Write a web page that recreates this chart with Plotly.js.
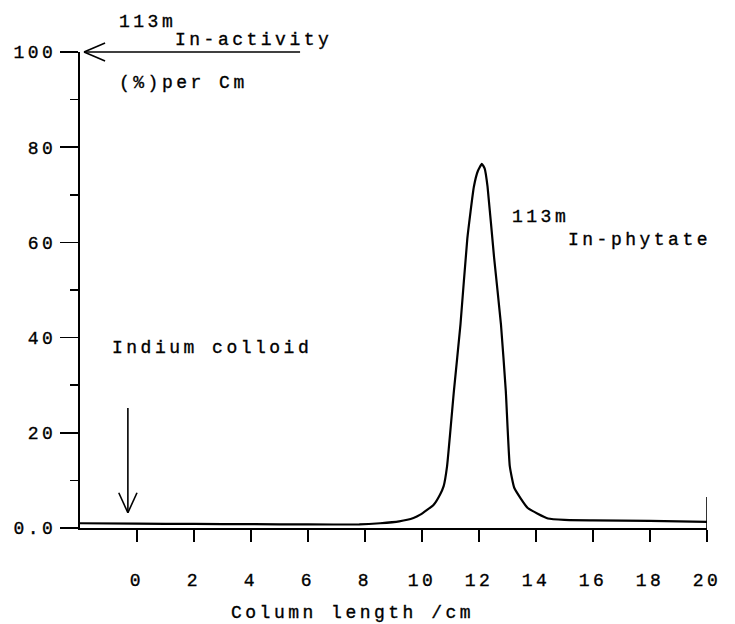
<!DOCTYPE html>
<html>
<head>
<meta charset="utf-8">
<script src="https://cdn.plot.ly/plotly-3.0.1.min.js"></script>
<style>
  html, body { margin: 0; padding: 0; background: #fff; }
  #chart { width: 735px; height: 624px; }
  text { letter-spacing: 3.5px; stroke: #000; stroke-width: 0.35px; }
</style>
</head>
<body>
<div id="chart"></div>
<script>
// Column position (cm)
const columnLength = [-2, 0, 2, 4, 6, 7.8, 8.53, 9.2, 9.7, 9.94, 10.41, 10.63, 10.76, 10.88, 11.12, 11.35, 11.59, 11.82, 11.96, 12.1, 12.2, 12.3, 12.53, 12.77, 12.94, 13.08, 13.24, 13.71, 14.42, 15, 16, 18, 20];
// 113mIn activity (%) per cm
const activity = [1.0, 0.9, 0.85, 0.8, 0.75, 0.75, 1.0, 1.4, 2.1, 2.8, 4.9, 7.0, 8.8, 13, 28.8, 42.8, 60.8, 71.7, 75, 76.5, 75.5, 71.7, 56.8, 42.8, 28.8, 13, 8.4, 4.2, 2.0, 1.7, 1.6, 1.5, 1.3];

const xTickVals = [0, 2, 4, 6, 8, 10, 12, 14, 16, 18, 20];
const yTickVals = [0, 20, 40, 60, 80, 100];
const yTickText = ['0.0', '20', '40', '60', '80', '100'];

const FONT = 'Liberation Mono, Courier New, monospace';
const FS = 18;

const trace = {
  x: columnLength,
  y: activity,
  type: 'scatter',
  mode: 'lines',
  line: { color: '#000', width: 2.2, shape: 'spline', smoothing: 0.4 },
  cliponaxis: false,
  hoverinfo: 'skip'
};

function txt(text, x, y, ref) {
  return { text: text, x: x, y: y, xref: ref ? 'paper' : 'x', yref: ref ? 'paper' : 'y',
           xanchor: 'left', yanchor: 'middle', showarrow: false,
           font: { family: FONT, size: FS, color: '#000' } };
}

const lineStyle = { color: '#000', width: 1.6 };

const layout = {
  width: 735,
  height: 624,
  margin: { l: 80, r: 28, t: 52, b: 96 },
  paper_bgcolor: '#fff',
  plot_bgcolor: '#fff',
  showlegend: false,
  font: { family: FONT, size: FS, color: '#000' },
  xaxis: {
    range: [-2, 20],
    showgrid: false,
    zeroline: false,
    showline: true,
    linecolor: '#000',
    linewidth: 2,
    ticks: 'outside',
    ticklen: 12,
    tickwidth: 1.6,
    tickcolor: '#000',
    tickmode: 'array',
    tickvals: xTickVals,
    ticktext: xTickVals.map(String),
    ticklabelstandoff: 22,
    tickfont: { family: FONT, size: FS, color: '#000' }
  },
  yaxis: {
    range: [0, 100],
    showgrid: false,
    zeroline: false,
    showline: true,
    linecolor: '#000',
    linewidth: 2,
    ticks: 'outside',
    ticklen: 18,
    tickwidth: 1.6,
    tickcolor: '#000',
    tickmode: 'array',
    tickvals: yTickVals,
    ticktext: yTickText,
    tickfont: { family: FONT, size: FS, color: '#000' },
    minor: { tickmode: 'linear', tick0: 0, dtick: 10, ticks: 'outside', ticklen: 8, tickwidth: 1.6, tickcolor: '#000', showgrid: false }
  },
  annotations: [
    txt('113m', 0.059, 1.063, true),
    txt('In-activity', 0.148, 1.025, true),
    txt('(%)per Cm', 0.059, 0.934, true),
    txt('Indium colloid', -0.95, 37.8),
    txt('113m', 13.09, 65.3),
    txt('In-phytate', 15.05, 60.5),
    { text: 'Column length /cm', x: 0.435, y: -0.1786, xref: 'paper', yref: 'paper',
      xanchor: 'center', yanchor: 'middle', showarrow: false,
      font: { family: FONT, size: FS, color: '#000' } }
  ],
  shapes: [
    // activity arrow pointing to y axis top
    { type: 'line', xref: 'paper', yref: 'paper', x0: 0.351, y0: 1.0, x1: 0.0064, y1: 1.0, line: lineStyle },
    { type: 'line', xref: 'paper', yref: 'paper', x0: 0.0064, y0: 1.0, x1: 0.040, y1: 1.019, line: lineStyle },
    { type: 'line', xref: 'paper', yref: 'paper', x0: 0.0064, y0: 1.0, x1: 0.040, y1: 0.981, line: lineStyle },
    // Indium colloid arrow
    { type: 'line', xref: 'x', yref: 'y', x0: -0.32, y0: 25.2, x1: -0.32, y1: 3.2, line: lineStyle },
    { type: 'line', xref: 'x', yref: 'y', x0: -0.32, y0: 3.2, x1: -0.64, y1: 7.4, line: lineStyle },
    { type: 'line', xref: 'x', yref: 'y', x0: -0.32, y0: 3.2, x1: 0.0, y1: 7.4, line: lineStyle },
    // end marker at 20 cm
    { type: 'line', xref: 'x', yref: 'y', x0: 20, y0: 0, x1: 20, y1: 6.5, line: lineStyle }
  ]
};

Plotly.newPlot('chart', [trace], layout, { displayModeBar: false, staticPlot: true });
</script>
</body>
</html>
